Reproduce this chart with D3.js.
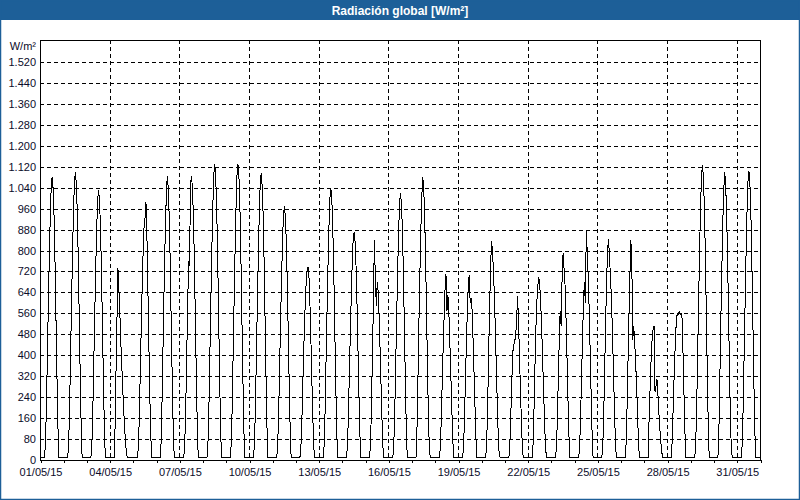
<!DOCTYPE html>
<html><head><meta charset="utf-8">
<script src="https://cdn.jsdelivr.net/npm/d3@7"></script>
<style>
html,body{margin:0;padding:0;background:#fff;}
svg{display:block;font-family:"Liberation Sans",Arial,sans-serif;}
</style></head><body>
<svg id="c" width="800" height="500"></svg>
<script>
const title = "Radiación global [W/m²]";
const unitLabel = "W/m²";
const yTickValues = [0,80,160,240,320,400,480,560,640,720,800,880,960,1040,1120,1200,1280,1360,1440,1520];
const xTickDays = [1,4,7,10,13,16,19,22,25,28,31];
const xTickLabels = ["01/05/15","04/05/15","07/05/15","10/05/15","13/05/15","16/05/15","19/05/15","22/05/15","25/05/15","28/05/15","31/05/15"];
const nightLevel = 8;
const hoursOfDay = [4,5,6,7,8,9,10,11,12,13,14,15,16,17,18,19];
// hourly W/m² for hours 4..19 of each day of May 2015
const radiation = [
 [8,54,184,378,572,756,918,1037,1080,1037,929,756,540,324,130,8],
 [8,55,187,385,583,770,935,1056,1100,1056,946,770,550,330,132,8],
 [8,52,175,361,546,721,876,989,1030,989,886,721,515,309,124,8],
 [8,120,330,530,735,650,560,450,360,270,190,120,60,20,8,8],
 [8,40,150,320,490,650,790,890,925,985,850,650,440,240,90,8],
 [8,110,300,520,710,880,1010,1085,1040,930,760,540,330,140,30,8],
 [8,54,184,380,575,760,740,1050,1085,1040,933,760,543,326,130,8],
 [8,57,192,396,599,791,961,1085,1130,1085,972,791,565,339,136,8],
 [8,56,190,393,596,788,958,1083,1132,1088,975,795,568,342,138,8],
 [8,55,186,383,580,767,931,1051,1095,1051,942,767,548,329,131,8],
 [8,49,165,340,514,679,825,931,970,931,834,679,485,291,116,8],
 [8,40,140,280,420,540,640,710,735,735,650,520,370,220,90,8],
 [8,52,177,364,551,728,884,998,1040,998,894,728,520,312,125,8],
 [8,44,148,305,461,609,740,835,870,835,748,609,435,261,104,8],
 [8,60,200,400,600,840,700,590,680,640,540,410,270,140,40,8],
 [8,51,173,357,541,714,867,979,1020,979,877,714,510,306,122,8],
 [8,110,300,515,705,875,1005,1080,1035,925,755,540,330,140,30,8],
 [8,40,140,280,420,540,650,710,570,630,560,450,330,200,80,8],
 [8,40,140,290,430,560,660,707,600,620,570,460,330,200,80,8],
 [8,60,200,390,570,720,837,800,730,630,500,360,220,90,20,8],
 [8,60,170,300,410,440,455,470,540,627,520,390,260,140,40,8],
 [8,60,200,370,510,610,670,697,660,590,490,370,250,130,40,8],
 [8,40,140,300,450,570,510,700,790,730,670,550,400,240,100,8],
 [8,40,150,300,450,590,680,600,877,790,700,570,410,250,100,8],
 [8,50,170,350,530,690,800,845,770,700,610,490,350,210,80,8],
 [8,50,180,360,540,700,841,760,460,510,450,370,280,170,60,8],
 [8,180,280,390,460,500,512,260,280,310,250,180,120,70,30,8],
 [8,100,230,350,450,530,560,555,565,555,560,540,400,240,100,8],
 [8,56,192,394,597,789,958,1082,1127,1082,969,789,564,338,135,8],
 [8,110,310,530,720,900,1030,1100,1050,940,770,550,340,140,30,8],
 [8,55,188,386,585,773,938,1060,1104,1060,949,773,552,331,132,8]
];

// build hourly series
const series = [];
radiation.forEach((vals, d) => {
  for (let h = 0; h < 24; h++) {
    const idx = hoursOfDay.indexOf(h);
    series.push({t: new Date(Date.UTC(2015, 4, d + 1, h)), v: idx >= 0 ? vals[idx] : nightLevel});
  }
});

const svg = d3.select("#c");
const W = 800, H = 500;
const L = 40, R = 760, T = 40, B = 460;

svg.append("rect").attr("x",0).attr("y",0).attr("width",W).attr("height",H).attr("fill","#ffffff");
svg.append("rect").attr("x",0).attr("y",0).attr("width",W).attr("height",20).attr("fill","#1d5f98");
svg.append("rect").attr("x",0.5).attr("y",0.5).attr("width",W-1).attr("height",H-1)
  .attr("fill","none").attr("stroke","#1d5f98").attr("stroke-width",1.5);
svg.append("text").attr("x",400).attr("y",14.5).attr("text-anchor","middle")
  .attr("fill","#fff").attr("font-weight","bold").attr("font-size","12px").text(title);

const x = d3.scaleUtc().domain([new Date(Date.UTC(2015,4,1)), new Date(Date.UTC(2015,5,1))]).range([L + 0.5, R + 0.5]);
const y = d3.scaleLinear().domain([0,1600]).range([B, T + 1]);

const loc = d3.formatLocale({decimal: ",", thousands: ".", grouping: [3], currency: ["", "€"]});
const fmt = loc.format(",d");

const g = svg.append("g").attr("shape-rendering","crispEdges");

// horizontal grid
g.selectAll("line.hg").data(yTickValues.filter(v => v > 0)).join("line")
  .attr("x1", L).attr("x2", R).attr("y1", d => Math.round(y(d)) + 0.5).attr("y2", d => Math.round(y(d)) + 0.5)
  .attr("stroke","#000").attr("stroke-dasharray","4,3");

// vertical grid
g.selectAll("line.vg").data(xTickDays.slice(1)).join("line")
  .attr("x1", d => Math.round(x(new Date(Date.UTC(2015,4,d))) - 0.5) + 0.5)
  .attr("x2", d => Math.round(x(new Date(Date.UTC(2015,4,d))) - 0.5) + 0.5)
  .attr("y1", T).attr("y2", B).attr("stroke","#000").attr("stroke-dasharray","4,3");

// x axis with daily ticks
const dayTicks = d3.utcDay.range(new Date(Date.UTC(2015,4,1)), new Date(Date.UTC(2015,5,1,1)));
const xAxis = d3.axisBottom(x).tickValues(dayTicks).tickSize(3).tickFormat(d => {
  const i = xTickDays.indexOf(d.getUTCDate());
  return (d.getUTCMonth() === 4 && i >= 0) ? xTickLabels[i] : "";
});
const xa = svg.append("g").attr("transform", `translate(0,${B})`).call(xAxis);
xa.select(".domain").remove();
xa.selectAll("line").attr("stroke","#000").attr("shape-rendering","crispEdges");
xa.selectAll("text").attr("font-size","11px").attr("fill","#0b0b2a").attr("font-family","'Liberation Sans',Arial,sans-serif").attr("dy","0.95em");

// y axis labels
const yAxis = d3.axisLeft(y).tickValues(yTickValues).tickSize(0).tickPadding(4).tickFormat(d => fmt(d));
const ya = svg.append("g").attr("transform", `translate(${L},0)`).call(yAxis);
ya.select(".domain").remove();
ya.selectAll("text").attr("font-size","11px").attr("fill","#0b0b2a").attr("font-family","'Liberation Sans',Arial,sans-serif");
svg.append("text").attr("x", 36).attr("y", 50).attr("text-anchor","end")
  .attr("font-size","11px").attr("fill","#0b0b2a").text(unitLabel);

// data line
const line = d3.line().x(d => x(d.t)).y(d => y(d.v));
svg.append("path").datum(series).attr("d", line).attr("fill","none")
  .attr("stroke","#000").attr("stroke-width",1).attr("shape-rendering","crispEdges");

// frame
svg.append("rect").attr("x", L + 0.5).attr("y", T + 0.5).attr("width", R - L).attr("height", B - T)
  .attr("fill","none").attr("stroke","#000").attr("shape-rendering","crispEdges");
</script>
</body></html>
